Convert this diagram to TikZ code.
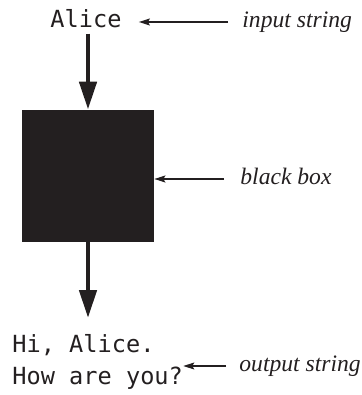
\documentclass[tikz,border=0pt]{standalone}
\usepackage{fontspec}
\setmainfont{Liberation Serif}
\setmonofont{DejaVu Sans Mono}
\usepackage{tikz}
\usetikzlibrary{arrows.meta, positioning}
\definecolor{ink}{RGB}{35,31,32}

\begin{document}
\begin{tikzpicture}[
			x=0.5pt, y=-0.5pt,
			every node/.style={text=ink},
			string/.style={font=\ttfamily\fontsize{11.8}{15}\selectfont, align=left},
			tag/.style={font=\itshape\fontsize{11.8}{14}\selectfont, inner sep=0pt, text height=5.3pt, text depth=0pt, anchor=west},
			blackbox/.style={fill=ink, minimum size=66pt, inner sep=0pt},
			flow/.style={-{Triangle[length=14pt, width=8.5pt]}, line width=2.35pt, draw=ink},
			pointer/.style={-{Stealth[length=5.5pt, width=3.5pt, inset=1pt]}, line width=0.6pt, draw=ink, shorten <=7pt}
			]
			\useasboundingbox (0,0) rectangle (362,395);
			
			% Nodes
			\node (box) [blackbox] at (88,176) {};
			\node (alice) [string, anchor=base, inner xsep=8.5pt, inner ysep=2.5pt] at (86,28) {Alice};
			\node (reply) [string, anchor=north west, inner sep=0pt] at (12,334) {Hi, Alice.\\[1.2pt]How are you?};
			\node (inputtag) [tag] at (242,22) {input string};
			\node (boxtag) [tag] at (240,179) {black box};
			\node (outputtag) [tag] at (239,366) {output string};
			
			% Connections
			\draw [flow] (box.north |- alice.south) -- (box.north);
			\draw [flow, shorten >=8pt] (box.south) -- (box.south |- reply.north);
			\draw [pointer] (inputtag.west) -- (inputtag.west -| alice.east);
			\draw [pointer, shorten <=8pt] (boxtag.west) -- (boxtag.west -| box.east);
			\draw [pointer, shorten <=6.5pt] (outputtag.west) -- (outputtag.west -| reply.east);
			
		\end{tikzpicture}
\end{document}
